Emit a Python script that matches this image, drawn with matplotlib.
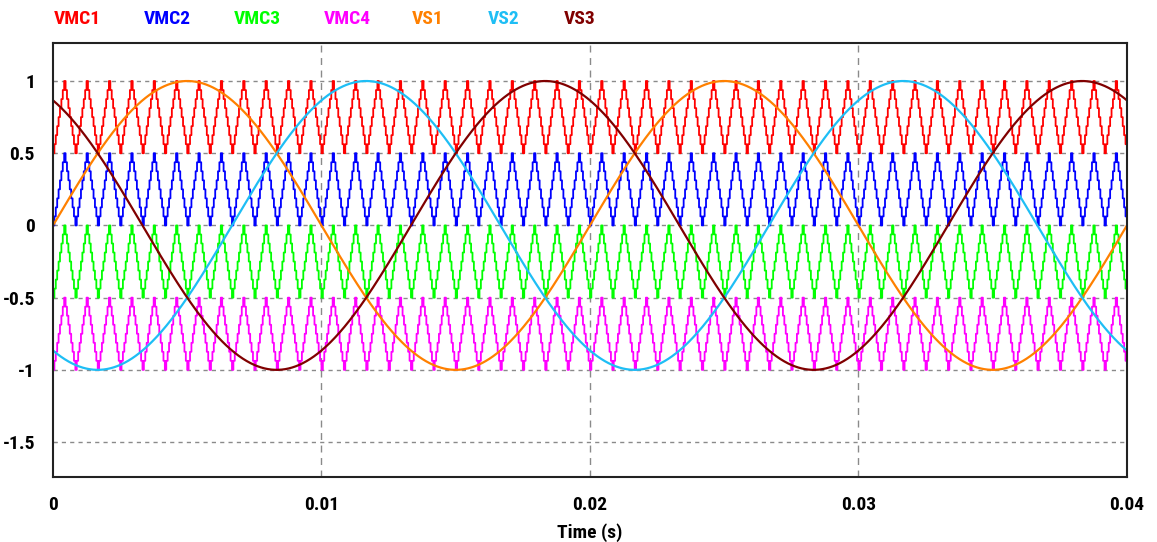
import numpy as np
import matplotlib.pyplot as plt

# carrier and reference settings
t_end = 0.04
carrier_freq = 1200.0
carrier_names = ["VMC1", "VMC2", "VMC3", "VMC4"]
carrier_low = [0.5, 0.0, -0.5, -1.0]
carrier_colors = ["#ff0000", "#0000ff", "#00ff00", "#ff00ff"]

sine_names = ["VS1", "VS2", "VS3"]
sine_freq = 50.0
sine_amp = [1.0, 1.0, 1.0]
sine_phase_deg = [0.0, -120.0, 120.0]
sine_colors = ["#ff8000", "#1ebef5", "#800000"]

xticks = [0, 0.01, 0.02, 0.03, 0.04]
xtick_labels = ["0", "0.01", "0.02", "0.03", "0.04"]
yticks = [1, 0.5, 0, -0.5, -1, -1.5]
ytick_labels = ["1", "0.5", "0", "-0.5", "-1", "-1.5"]

font = ["Roboto Condensed", "Liberation Sans Narrow", "Liberation Sans", "DejaVu Sans"]
plt.rcParams["font.family"] = font

fig = plt.figure(figsize=(11.57, 5.42), dpi=100)
ax = fig.add_axes([0.0458, 0.1199, 0.9282, 0.8007])

# triangle carriers, sampled in coarse steps like the simulator output
steps_per_period = 16
dt = 1.0 / carrier_freq / steps_per_period
ts = np.arange(0, t_end + dt / 2, dt)
phase = (ts * carrier_freq) % 1.0
tri = 1.0 - 2.0 * np.abs(phase - 0.5)  # 0 at t=0, 1 at half period
for low, c in zip(carrier_low, carrier_colors):
    ax.plot(ts, low + 0.5 * tri, color=c, lw=1.3, drawstyle="steps-post")

t = np.linspace(0, t_end, 4001)
for a, ph, c in zip(sine_amp, sine_phase_deg, sine_colors):
    ax.plot(t, a * np.sin(2 * np.pi * sine_freq * t + np.radians(ph)),
            color=c, lw=1.6)

for y in yticks:
    ax.axhline(y, color="#8a8a8a", lw=1, ls=(0, (3, 3)), zorder=0)
for x in xticks[1:]:
    ax.axvline(x, color="#8a8a8a", lw=1, ls=(0, (5, 4)), zorder=0)

ax.set_xlim(0, t_end)
ax.set_ylim(-1.742, 1.263)
ax.set_xticks(xticks)
ax.set_xticklabels(xtick_labels)
ax.set_yticks(yticks)
ax.set_yticklabels(ytick_labels)
ax.tick_params(axis="x", length=0, pad=14, labelsize=14)
ax.tick_params(axis="y", length=3, direction="in", color="#888888",
               pad=13, labelsize=14)
for lab in ax.get_xticklabels() + ax.get_yticklabels():
    lab.set_fontweight("bold")
for s in ax.spines.values():
    s.set_linewidth(1.5)
    s.set_color("#222222")

ax.set_xlabel("Time (s)", fontsize=14, fontweight="bold", labelpad=6)

# legend as coloured names along the top
legend_x = [77, 167, 257, 347, 428, 504, 580]
names = carrier_names + sine_names
colors = carrier_colors + sine_colors
for name, c, px in zip(names, colors, legend_x):
    fig.text(px / 1157, 1 - 19 / 542, name, color=c, fontsize=14,
             fontweight="bold", ha="center", va="center")

fig.savefig("out.png", dpi=100)
